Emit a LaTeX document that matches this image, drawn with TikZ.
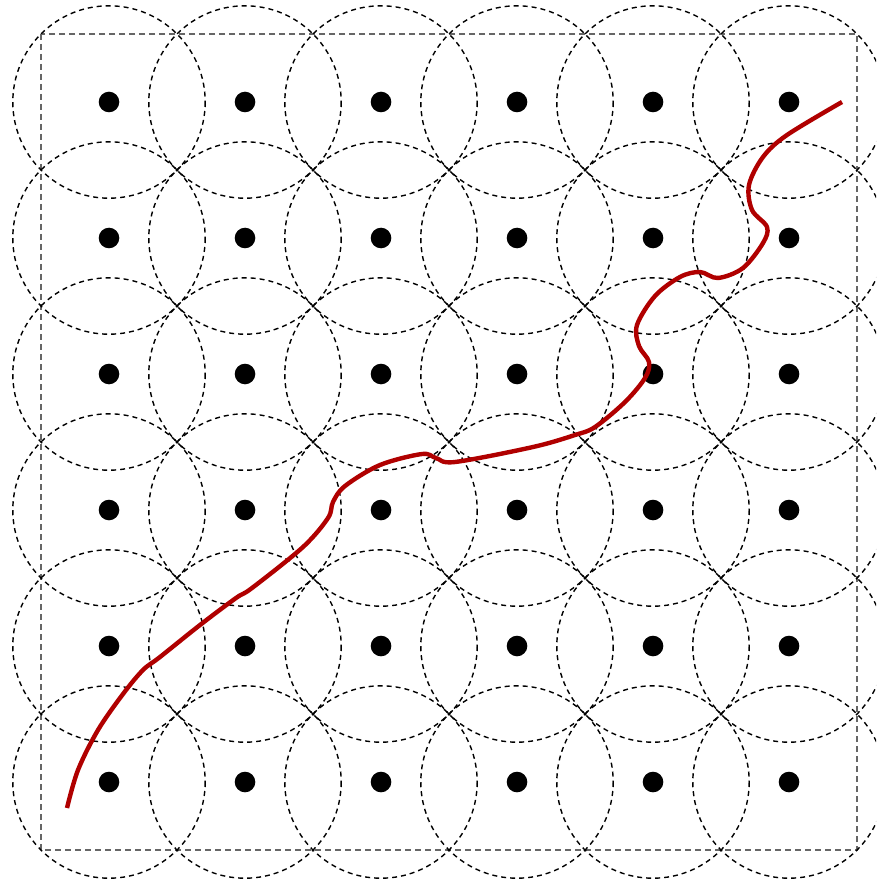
\documentclass[tikz,border=0pt]{standalone}
\begin{document}
\begin{tikzpicture}[x=1pt,y=-1pt,
  cov/.style={draw=black,line width=1.4pt,dash pattern=on 5pt off 4pt},
  frame/.style={draw=black!60,line width=1.3pt,dash pattern=on 6pt off 4pt},
  sensor/.style={fill=black},
  route/.style={draw={rgb,255:red,176;green,0;blue,0},line width=4.4pt,line cap=butt,line join=round}]
\useasboundingbox (0,0) rectangle (876,882);
\clip (0,0) rectangle (876,882);
\fill[white] (0,0) rectangle (876,882);
\draw[frame] (41,34) rectangle (857,850);
\foreach \i in {0,...,5}{
  \foreach \j in {0,...,5}{
    \draw[cov] ({109+136*\i},{102+136*\j}) circle (96.2);
  }
}
\foreach \i in {0,...,5}{
  \foreach \j in {0,...,5}{
    \fill[sensor] ({109+136*\i},{102+136*\j}) circle (10.3);
  }
}
\draw[route] plot[smooth,tension=0.55] coordinates {
(67,808) (78,770) (98,730) (123,694) (143,670) (160,657) (200,625) (236,598) (252,588)
(303,547) (328,518) (333,502) (345,486) (380,465) (422,454) (436,458) (455,462)
(533,447) (575,435) (595,427) (625,402) (645,378) (649,362) (639,346) (637,325)
(655,296) (680,277) (700,272) (718,278) (743,268) (763,243) (767,227)
(752,210) (749,185) (763,157) (787,135) (842,102)};
\end{tikzpicture}
\end{document}
